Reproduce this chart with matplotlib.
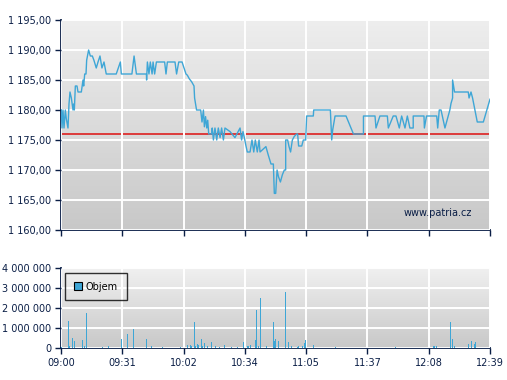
import numpy as np
import matplotlib
matplotlib.use("Agg")
import matplotlib.pyplot as plt
from matplotlib.ticker import FuncFormatter
from matplotlib.lines import Line2D

# ---- data (minutes after 09:00) ----
price_t = [0.17, 0.51, 1.02, 1.53, 2.21, 2.72, 3.57, 4.08, 4.59, 5.28, 6.13, 6.47, 6.81, 7.32, 8.17,
           8.68, 10.38, 11.23, 11.57, 12.1, 12.76, 13.1, 14.1, 14.97, 16.0, 16.8, 18.0, 18.9, 19.9,
           20.9, 21.95, 23.1, 28.2, 30.3, 30.8, 36.2, 37.3, 38.5, 43.6, 43.7, 44.1, 44.9, 45.6, 46.5,
           47.0, 47.8, 48.7, 52.9, 53.6, 54.3, 58.2, 59.0, 60.1, 61.8, 62.8, 63.8, 64.5, 65.5, 66.7,
           67.9, 68.2, 69.2, 71.3, 71.98, 72.7, 73.2, 73.8, 74.4, 74.9, 75.4, 76.9, 77.2, 77.8, 78.6,
           79.5, 80.3, 81.2, 82.0, 82.9, 83.7, 86.3, 88.8, 91.4, 92.2, 92.9, 93.6, 94.3, 95.1, 96.5,
           97.5, 98.4, 99.2, 100.2, 101.1, 101.6, 104.6, 105.8, 107.2, 108.4, 108.9, 109.6, 110.3,
           111.0, 112.0, 113.0, 114.0, 114.7, 114.7, 115.7, 116.4, 117.2, 118.1, 119.1, 120.3, 120.8,
           121.3, 122.9, 123.7, 124.9, 125.4, 128.8, 129.0, 137.5, 138.2, 138.7, 139.9, 145.5, 149.3,
           154.4, 154.4, 160.3, 160.8, 162.8, 166.6, 167.1, 169.6, 171.0, 172.7, 173.9, 175.6, 176.8,
           178.1, 179.8, 179.8, 185.3, 185.5, 186.6, 191.8, 192.3, 193.1, 194.0, 196.0, 198.5, 199.1,
           199.9, 199.9, 200.9, 207.9, 208.3, 209.3, 210.1, 212.5, 215.6, 219.0]
price_v = [1180, 1177, 1180, 1177, 1180, 1178.5, 1177, 1181, 1183, 1182, 1180, 1181, 1180, 1184, 1184,
           1183, 1183, 1185, 1184, 1186, 1186, 1188.3, 1190, 1189, 1189, 1188.3, 1187, 1188, 1189,
           1187, 1188, 1186, 1186, 1188, 1186, 1186, 1189, 1186, 1186, 1185, 1188, 1186, 1188, 1186,
           1188, 1186, 1188, 1188, 1186, 1188, 1188, 1186, 1188, 1188, 1187, 1186, 1185.8, 1185.2, 1184.7,
           1184, 1182, 1180, 1180, 1178, 1180, 1177.2, 1178.9, 1177, 1178.3, 1176, 1176, 1177, 1175, 1177,
           1175, 1177, 1175.4, 1177, 1175, 1177, 1176.4, 1175.4, 1177, 1175, 1176.4, 1175.4, 1174.2, 1173, 1173,
           1175, 1173, 1175, 1173, 1175, 1173, 1173.9, 1172.5, 1171, 1171, 1166.1, 1166.1, 1170,
           1168.9, 1168, 1169.2, 1170, 1170, 1175, 1175, 1173.9, 1173, 1175, 1175.6, 1176, 1176,
           1174, 1174, 1175, 1175, 1179, 1179, 1180, 1180, 1175, 1176.7, 1179, 1179, 1176,
           1176, 1179, 1179, 1177, 1179, 1179, 1177, 1179, 1179, 1177, 1179, 1177, 1179,
           1177, 1177, 1179, 1179, 1177, 1179, 1179, 1177, 1180, 1180, 1177, 1180, 1181.1,
           1182, 1185, 1183, 1183, 1182, 1183, 1182, 1178, 1178, 1181.8]
prev_close = 1176

vol_t = [0.3, 3.91, 4.42, 5.78, 6.81, 10.9, 11.9, 12.9, 21.1, 24.2, 30.8, 33.9, 36.9, 43.6, 46.3, 51.7,
         61.0, 64.5, 66.2, 66.7, 68.1, 68.6, 69.6, 70.1, 71.6, 72.1, 73.2, 74.7, 76.7, 78.8, 80.8,
         83.4, 86.9, 90.0, 93.1, 95.1, 95.6, 96.7, 99.2, 99.9, 100.7, 101.7, 104.8, 108.4, 108.9,
         109.4, 110.9, 114.5, 116.0, 117.6, 120.6, 121.1, 123.2, 124.2, 124.7, 128.8, 140.0, 170.6,
         190.0, 190.7, 191.6, 198.7, 199.8, 200.8, 207.9, 209.4, 211.0, 211.5]
vol_v = [0.05, 1.36, 0.08, 0.5, 0.36, 0.41, 0.08, 1.76, 0.05, 0.1, 0.46, 0.71, 0.96, 0.46, 0.1, 0.05,
         0.05, 0.15, 0.15, 0.1, 1.31, 0.1, 0.2, 0.15, 0.46, 0.1, 0.25, 0.1, 0.28, 0.08, 0.05,
         0.15, 0.05, 0.05, 0.32, 0.08, 0.08, 0.15, 0.4, 1.91, 0.1, 2.51, 0.08, 1.28, 0.36,
         0.45, 0.36, 2.81, 0.32, 0.1, 0.06, 0.1, 0.1, 0.26, 0.4, 0.15, 0.05, 0.05,
         0.1, 0.1, 0.1, 1.28, 0.46, 0.1, 0.2, 0.36, 0.2, 0.32]
vol_v = [v * 1e6 for v in vol_v]

x_labels = ['09:00', '09:31', '10:02', '10:34', '11:05', '11:37', '12:08', '12:39']
price_ticks = [1160, 1165, 1170, 1175, 1180, 1185, 1190, 1195]
vol_ticks = [0, 1e6, 2e6, 3e6, 4e6]

# ---- style ----
NAVY = '#0a1e46'
LINE = '#3ea6d6'
FS = 7.0
total = 219.0
x_pos = np.linspace(0, total, len(x_labels))

fig = plt.figure(figsize=(5.07, 3.80), dpi=100)
fig.patch.set_facecolor('white')
W, H = 507.0, 380.0
ax1 = fig.add_axes([61 / W, 1 - 230 / H, 429 / W, 210 / H])
ax2 = fig.add_axes([61 / W, 1 - 348 / H, 429 / W, 80 / H])


def style(ax, top_c, bot_c):
    grad = np.linspace(0, 1, 256).reshape(-1, 1)
    c0 = np.array(top_c) / 255.0
    c1 = np.array(bot_c) / 255.0
    img = c0 + (c1 - c0) * grad[..., None]
    img = img.reshape(256, 1, 3)
    ax.imshow(img, extent=[0, 1, 0, 1], transform=ax.transAxes, aspect='auto', zorder=0)
    ax.set_facecolor('none')
    for s in ['top', 'right']:
        ax.spines[s].set_visible(False)
    for s in ['left', 'bottom']:
        ax.spines[s].set_color(NAVY)
        ax.spines[s].set_linewidth(1.3)
    ax.grid(True, color='white', linewidth=1.4, zorder=1)
    ax.set_axisbelow(False)
    ax.tick_params(axis='both', colors=NAVY, labelcolor=NAVY, labelsize=FS,
                   length=4, width=1.0, direction='out', pad=3)
    ax.set_xlim(0, total)
    ax.set_xticks(x_pos)


style(ax1, (238, 238, 238), (200, 200, 200))
style(ax2, (240, 240, 240), (200, 200, 200))

# price pane
ax1.set_ylim(1160, 1195)
ax1.set_yticks(price_ticks)
ax1.yaxis.set_major_formatter(FuncFormatter(
    lambda v, p: '{:,.2f}'.format(v).replace(',', ' ').replace('.', ',')))
ax1.set_xticklabels([])
ax1.axhline(prev_close, color='#dd2020', linewidth=1.2, zorder=2)
ax1.plot(price_t, price_v, color=LINE, linewidth=1.0, zorder=3)
ax1.text(0.958, 0.08, 'www.patria.cz', transform=ax1.transAxes, ha='right', va='center',
         color=NAVY, fontsize=FS, zorder=4)

# volume pane
ax2.set_ylim(0, 4e6)
ax2.set_yticks(vol_ticks)
ax2.yaxis.set_major_formatter(FuncFormatter(lambda v, p: '{:,.0f}'.format(v).replace(',', ' ')))
ax2.set_xticklabels(x_labels)
ax2.bar(vol_t, vol_v, width=0.6, color=LINE, linewidth=0, zorder=3, antialiased=False)

# legend box
leg_handle = Line2D([], [], marker='s', linestyle='none', markersize=6,
                    markerfacecolor=LINE, markeredgecolor='black', markeredgewidth=0.8)
leg = ax2.legend([leg_handle], ['Objem'], loc='upper left', bbox_to_anchor=(0.01, 0.94),
                 fontsize=FS, frameon=True, fancybox=False, edgecolor='black',
                 handlelength=0.8, handletextpad=0.4, borderpad=0.9, borderaxespad=0.0)
leg.get_frame().set_facecolor('none')
leg.get_frame().set_linewidth(1.0)
for t in leg.get_texts():
    t.set_color('black')

fig.savefig('out.png', dpi=100)
